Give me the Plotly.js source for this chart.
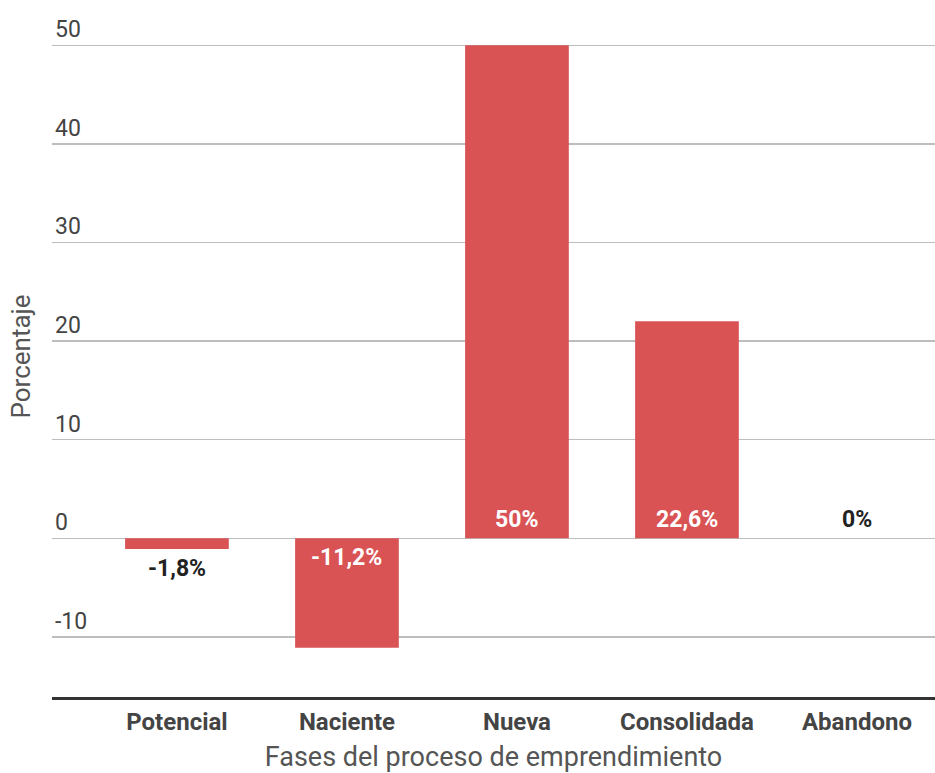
<!DOCTYPE html>
<html><head><meta charset="utf-8">
<script src="https://cdn.plot.ly/plotly-3.0.1.min.js"></script>
<style>body{margin:0;background:#fff}#c{width:935px;height:773px}</style>
</head><body><div id="c"></div>
<script>
const categories = ["Potencial", "Naciente", "Nueva", "Consolidada", "Abandono"];
const values = [-1.1, -11.1, 50, 22.0, 0];
const labels = ["-1,8%", "-11,2%", "50%", "22,6%", "0%"];
const yTicks = [-10, 0, 10, 20, 30, 40, 50];

const barColor = "#d95355";
const FONT = "Roboto, 'Open Sans', sans-serif";

const annotations = values.map((v, i) => {
  const big = Math.abs(v) > 5;
  let y, anchor, shift, color;
  if (big) {
    y = 0; anchor = v > 0 ? "bottom" : "top"; shift = v > 0 ? 3 : -4; color = "#ffffff";
  } else {
    y = v; anchor = v < 0 ? "top" : "bottom"; shift = v < 0 ? -4 : 3; color = "#222222";
  }
  return {x: categories[i], y: y, xref: "x", yref: "y", text: "<b>" + labels[i] + "</b>",
    showarrow: false, yanchor: anchor, yshift: shift,
    font: {family: FONT, size: 23, color: color}};
});

const trace = {type: "bar", x: categories, y: values, width: 0.61,
  marker: {color: barColor}, hoverinfo: "skip"};

const layout = {
  width: 935, height: 773,
  margin: {l: 52, r: 0, t: 16, b: 76},
  paper_bgcolor: "#fff", plot_bgcolor: "#fff",
  showlegend: false,
  font: {family: FONT, color: "#444"},
  xaxis: {type: "category", range: [-0.735, 4.459], showgrid: false,
    showline: true, linecolor: "#333", linewidth: 3,
    ticks: "", tickfont: {family: FONT, size: 24, color: "#444", weight: "bold"},
    ticklabelstandoff: 1,
    title: {text: "Fases del proceso de emprendimiento", font: {family: FONT, size: 27, color: "#555"}, standoff: 21}},
  yaxis: {range: [-16.1, 52.97], tickvals: yTicks, ticktext: yTicks.map(String),
    ticklabelposition: "inside top", showgrid: true, gridcolor: "#bdbdbd", gridwidth: 1.5,
    zeroline: false, showline: false, ticks: "",
    tickfont: {family: FONT, size: 23, color: "#444"},
    title: {text: "Porcentaje", font: {family: FONT, size: 26, color: "#555"}, standoff: 16}},
  annotations: annotations
};
Plotly.newPlot("c", [trace], layout, {displayModeBar: false, staticPlot: true});
</script></body></html>
